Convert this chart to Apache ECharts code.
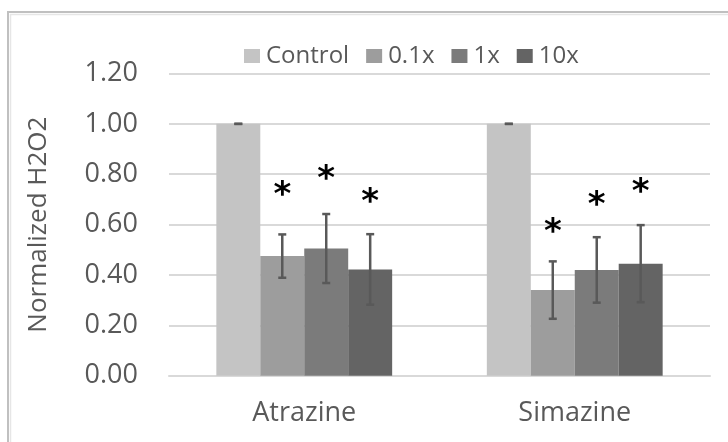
<!DOCTYPE html>
<html>
<head>
<meta charset="utf-8">
<script src="https://cdn.jsdelivr.net/npm/echarts@6/dist/echarts.min.js"></script>
<style>
html,body{margin:0;padding:0;background:#fff;}
#chart{width:728px;height:442px;}
</style>
</head>
<body>
<div id="chart"></div>
<script>
// ---- data ----
const categories = ['Atrazine', 'Simazine'];
const seriesNames = ['Control', '0.1x', '1x', '10x'];
const controlVals = [1.00, 1.00];
const x01Vals = [0.475, 0.340];
const x1Vals = [0.505, 0.420];
const x10Vals = [0.422, 0.445];
const controlErr = [0, 0];
const x01Err = [0.086, 0.114];
const x1Err = [0.137, 0.130];
const x10Err = [0.140, 0.153];
// height (in data units) of the significance asterisks, per series (null = none)
const controlStar = [null, null];
const x01Star = [0.746, 0.596];
const x1Star = [0.807, 0.703];
const x10Star = [0.715, 0.755];
const yTicks = [0, 0.2, 0.4, 0.6, 0.8, 1.0, 1.2];

const values = [controlVals, x01Vals, x1Vals, x10Vals];
const errs = [controlErr, x01Err, x1Err, x10Err];
const stars = [controlStar, x01Star, x1Star, x10Star];
const colors = ['#c4c4c4', '#9d9d9d', '#7b7b7b', '#646464'];

const FONT = '"Open Sans", "Noto Sans", sans-serif';
const TXT = '#595959';
const GAP = 0.35; // barCategoryGap

function barCenter(api, cat, s) {
  const band = api.size([1, 0])[0];
  const groupW = band * (1 - GAP);
  const bw = groupW / 4;
  const c = api.coord([cat, 0])[0];
  return c - groupW / 2 + bw * (s + 0.5);
}

const series = [];
seriesNames.forEach((name, s) => {
  series.push({
    name: name,
    type: 'bar',
    barGap: '0%',
    barCategoryGap: '35%',
    itemStyle: { color: colors[s] },
    data: values[s],
    z: 2
  });
});
// error bars
seriesNames.forEach((name, s) => {
  series.push({
    type: 'custom',
    silent: true,
    z: 5,
    data: categories.map((c, i) => [i, values[s][i], errs[s][i]]),
    renderItem: function (params, api) {
      const cat = api.value(0), m = api.value(1), e = api.value(2);
      const x = barCenter(api, cat, s);
      const yHi = api.coord([cat, m + e])[1];
      const yLo = api.coord([cat, m - e])[1];
      const cap = 4;
      const st = { stroke: '#595959', lineWidth: 2.5 };
      return {
        type: 'group',
        children: [
          { type: 'line', shape: { x1: x, y1: yHi, x2: x, y2: yLo }, style: st },
          { type: 'line', shape: { x1: x - cap, y1: yHi, x2: x + cap, y2: yHi }, style: st },
          { type: 'line', shape: { x1: x - cap, y1: yLo, x2: x + cap, y2: yLo }, style: st }
        ]
      };
    }
  });
});
// asterisks
seriesNames.forEach((name, s) => {
  series.push({
    type: 'custom',
    silent: true,
    z: 6,
    data: categories.map((c, i) => [i, stars[s][i]]).filter(d => d[1] !== null),
    renderItem: function (params, api) {
      const cat = api.value(0), v = api.value(1);
      const x = barCenter(api, cat, s);
      const y = api.coord([cat, v])[1];
      return {
        type: 'text',
        style: {
          text: '*', x: x, y: y + 8,
          fill: '#000', font: 'bold 34px "DejaVu Sans", sans-serif',
          textAlign: 'center', textVerticalAlign: 'middle'
        }
      };
    }
  });
});

const chart = echarts.init(document.getElementById('chart'));
chart.setOption({
  animation: false,
  backgroundColor: '#fff',
  graphic: [
    { type: 'rect', shape: { x: 8, y: 12, width: 740, height: 460 },
      style: { fill: 'none', stroke: '#c0c0c0', lineWidth: 2 }, z: 0 },
    { type: 'rect', shape: { x: 10.5, y: 14.5, width: 740, height: 460 },
      style: { fill: 'none', stroke: '#e6e6e6', lineWidth: 1.5 }, z: 0 }
  ],
  legend: {
    data: seriesNames,
    left: 239,
    top: 39,
    itemWidth: 16,
    itemHeight: 14,
    itemGap: 17,
    icon: 'rect',
    textStyle: { color: TXT, fontSize: 24, fontFamily: FONT, padding: [0, 0, 0, 1] }
  },
  grid: { left: 169, right: 18, top: 73.5, bottom: 66.3 },
  xAxis: {
    type: 'category',
    data: categories,
    axisTick: { show: false },
    axisLine: { show: true, lineStyle: { color: '#d9d9d9', width: 2 } },
    axisLabel: { color: TXT, fontSize: 27, fontFamily: FONT, margin: 24 }
  },
  yAxis: {
    type: 'value',
    min: 0, max: 1.2, interval: 0.2,
    name: 'Normalized H2O2',
    nameLocation: 'middle',
    nameGap: 117,
    nameTextStyle: { color: TXT, fontSize: 26, fontFamily: FONT },
    axisLine: { show: false },
    axisTick: { show: false },
    splitLine: { lineStyle: { color: '#d9d9d9', width: 2 } },
    axisLabel: {
      color: TXT, fontSize: 27, fontFamily: FONT, margin: 31,
      formatter: v => yTicks.includes(Math.round(v * 10) / 10) ? v.toFixed(2) : ''
    }
  },
  series: series
});
</script>
</body>
</html>
